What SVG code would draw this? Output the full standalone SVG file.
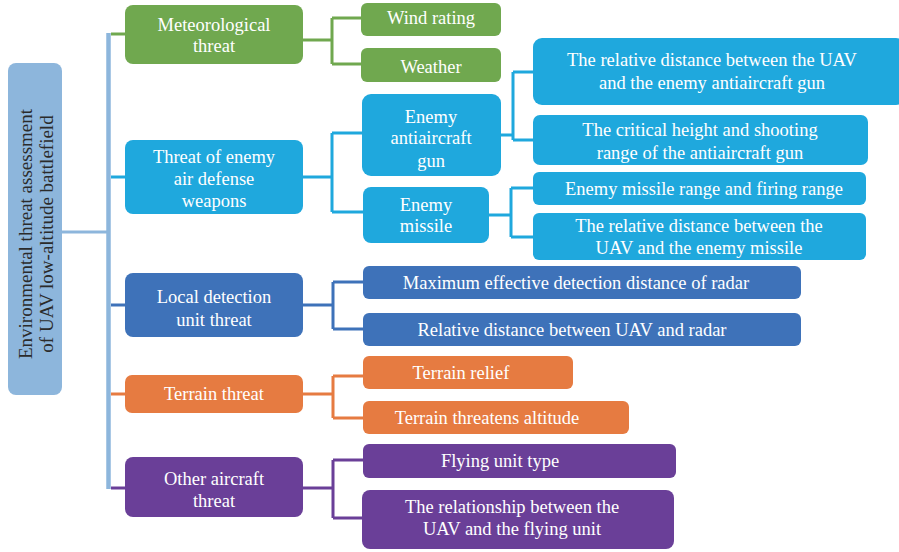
<svg xmlns="http://www.w3.org/2000/svg" width="899" height="552" viewBox="0 0 899 552">
<style>
text{font-family:"Liberation Serif","Times New Roman",serif;font-size:18.5px;fill:#fff;text-anchor:middle}
.rt{font-size:19px;fill:#2b2b2b}
.c{fill:none;stroke-width:3}
.g{fill:#70a84f}.lb{fill:#1fa8dd}.b{fill:#3e72b9}.o{fill:#e67b41}.p{fill:#6a3f98}.r{fill:#8db6dc}
.cg{stroke:#70a84f}.clb{stroke:#1fa8dd}.cb{stroke:#3e72b9}.co{stroke:#e67b41}.cp{stroke:#6a3f98}.cr{stroke:#8db6dc}
</style>
<rect width="899" height="552" fill="#fff"/>
<g id="connectors">
<path class="c cr" d="M61 232H108" stroke-width="4"/>
<path class="c cr" d="M108.5 33V489" style="stroke-width:4.5"/>
<path class="c cg" d="M111 34H126"/>
<path class="c clb" d="M111 177H126"/>
<path class="c cb" d="M111 305H126"/>
<path class="c co" d="M111 394H126"/>
<path class="c cp" d="M111 488H126"/>
<path class="c cg" d="M302 40H332M332 18V64M332 18H362M332 64H362"/>
<path class="c clb" d="M302 177H332M332 133V212M332 133H363M332 212H364"/>
<path class="c clb" d="M500 135H513M513 72V140M513 72H534M513 140H534"/>
<path class="c clb" d="M488 215H511M511 188V237M511 188H534M511 237H534"/>
<path class="c cb" d="M302 305H333M333 282V329M333 282H364M333 329H364"/>
<path class="c co" d="M302 394H333M333 376V418M333 376H364M333 418H364"/>
<path class="c cp" d="M302 488H333M333 460V518M333 460H364M333 518H363"/>
</g>
<g id="root"><rect class="r" x="8" y="63" width="54" height="332" rx="8"/>
<text class="rt" transform="translate(32,234) rotate(-90)">Environmental threat assessment</text>
<text class="rt" transform="translate(53,234) rotate(-90)">of UAV low-altitude battlefield</text></g>
<g id="meteo"><rect class="g" x="125" y="5" width="178" height="59" rx="8"/><text x="214" y="31">Meteorological</text><text x="214" y="52">threat</text></g>
<g id="wind"><rect class="g" x="361" y="3" width="140" height="33" rx="6"/><text x="431" y="24">Wind rating</text></g>
<g id="weather"><rect class="g" x="361" y="48" width="140" height="34" rx="6"/><text x="431" y="73">Weather</text></g>
<g id="airdef"><rect class="lb" x="125" y="140" width="178" height="74" rx="8"/><text x="214" y="163">Threat of enemy</text><text x="214" y="185">air defense</text><text x="214" y="207">weapons</text></g>
<g id="gun"><rect class="lb" x="362" y="94" width="139" height="82" rx="9"/><text x="431" y="123">Enemy</text><text x="431" y="144">antiaircraft</text><text x="431" y="167">gun</text></g>
<g id="missile"><rect class="lb" x="363" y="187" width="126" height="56" rx="8"/><text x="426" y="211">Enemy</text><text x="426" y="232">missile</text></g>
<g id="gundist"><rect class="lb" x="533" y="38" width="372" height="67" rx="9"/><text x="712" y="66">The relative distance between the UAV</text><text x="712" y="89">and the enemy antiaircraft gun</text></g>
<g id="gunheight"><rect class="lb" x="533" y="115" width="335" height="50" rx="7"/><text x="700" y="136">The critical height and shooting</text><text x="700" y="159">range of the antiaircraft gun</text></g>
<g id="misrange"><rect class="lb" x="533" y="172" width="333" height="33" rx="6"/><text x="704" y="195">Enemy missile range and firing range</text></g>
<g id="misdist"><rect class="lb" x="533" y="213" width="333" height="47" rx="6"/><text x="699" y="232">The relative distance between the</text><text x="699" y="254">UAV and the enemy missile</text></g>
<g id="local"><rect class="b" x="125" y="273" width="178" height="64" rx="8"/><text x="214" y="303">Local detection</text><text x="214" y="326">unit threat</text></g>
<g id="radarmax"><rect class="b" x="363" y="266" width="438" height="33" rx="6"/><text x="576" y="289">Maximum effective detection distance of radar</text></g>
<g id="radardist"><rect class="b" x="363" y="313" width="438" height="33" rx="6"/><text x="572" y="336">Relative distance between UAV and radar</text></g>
<g id="terrain"><rect class="o" x="125" y="375" width="178" height="38" rx="7"/><text x="214" y="400">Terrain threat</text></g>
<g id="relief"><rect class="o" x="363" y="356" width="210" height="33" rx="6"/><text x="461" y="379">Terrain relief</text></g>
<g id="altitude"><rect class="o" x="363" y="401" width="266" height="33" rx="6"/><text x="487" y="424">Terrain threatens altitude</text></g>
<g id="aircraft"><rect class="p" x="125" y="457" width="178" height="60" rx="8"/><text x="214" y="485">Other aircraft</text><text x="214" y="507">threat</text></g>
<g id="flytype"><rect class="p" x="363" y="444" width="313" height="34" rx="6"/><text x="500" y="467">Flying unit type</text></g>
<g id="relation"><rect class="p" x="362" y="490" width="312" height="59" rx="8"/><text x="512" y="513">The relationship between the</text><text x="512" y="535">UAV and the flying unit</text></g>
</svg>
